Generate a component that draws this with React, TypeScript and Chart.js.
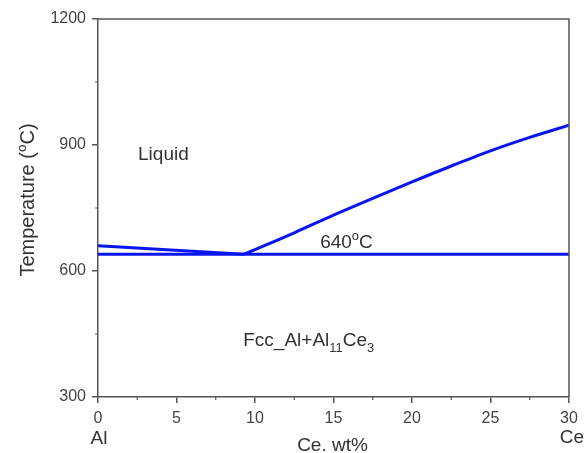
import React, { useEffect, useRef } from 'react';
import { Chart, registerables } from 'chart.js';

Chart.register(...registerables);

// ---- data ----
const xMajorTicks = [0, 5, 10, 15, 20, 25, 30];
const xMinorTicks = [2.5, 7.5, 12.5, 17.5, 22.5, 27.5];
const yMajorTicks = [300, 600, 900, 1200];
const yMinorTicks = [450, 750, 1050];

const liquidusAlX = [0, 9.3];
const liquidusAlY = [660, 640];
const liquidusCeX = [9.3, 10, 12.5, 15, 17.5, 20, 22.5, 25, 27.5, 30];
const liquidusCeY = [640, 651, 691, 733, 773, 812, 850, 886, 918, 947];
const eutecticX = [0, 30];
const eutecticY = [640, 640];

const xTitle = 'Ce. wt%';
const xLeftEnd = 'Al';
const xRightEnd = 'Ce';

const FONT = '"Liberation Sans", Arial, Helvetica, sans-serif';
const AXIS = '#555555';
const TEXT = '#333333';
const BLUE = '#0a14f0';

type Part = { t: string; m?: 'sup' | 'sub' };

function richWidth(ctx: CanvasRenderingContext2D, parts: Part[], size: number) {
  let w = 0;
  for (const p of parts) {
    const s = p.m ? size * 0.68 : size;
    ctx.font = `${s}px ${FONT}`;
    w += ctx.measureText(p.t).width;
  }
  return w;
}

function drawRich(
  ctx: CanvasRenderingContext2D,
  parts: Part[],
  x: number,
  y: number,
  size: number,
  align: 'left' | 'center' = 'left'
) {
  let cx = x;
  if (align === 'center') cx = x - richWidth(ctx, parts, size) / 2;
  ctx.textAlign = 'left';
  ctx.textBaseline = 'alphabetic';
  for (const p of parts) {
    const s = p.m ? size * 0.68 : size;
    ctx.font = `${s}px ${FONT}`;
    let dy = 0;
    if (p.m === 'sup') dy = -size * 0.42;
    if (p.m === 'sub') dy = size * 0.28;
    ctx.fillText(p.t, cx, y + dy);
    cx += ctx.measureText(p.t).width;
  }
}

const overlay = {
  id: 'overlay',
  afterDraw(chart: any) {
    const { ctx, chartArea: ca, scales } = chart;
    const xs = scales.x;
    const ys = scales.y;
    ctx.save();
    // frame (top & right)
    ctx.strokeStyle = AXIS;
    ctx.lineWidth = 1.5;
    ctx.beginPath();
    ctx.moveTo(ca.left, ca.top);
    ctx.lineTo(ca.right, ca.top);
    ctx.lineTo(ca.right, ca.bottom);
    ctx.stroke();
    // minor ticks
    ctx.lineWidth = 1.2;
    ctx.beginPath();
    for (const v of xMinorTicks) {
      const px = xs.getPixelForValue(v);
      ctx.moveTo(px, ca.bottom);
      ctx.lineTo(px, ca.bottom + 3);
    }
    for (const v of yMinorTicks) {
      const py = ys.getPixelForValue(v);
      ctx.moveTo(ca.left, py);
      ctx.lineTo(ca.left - 3, py);
    }
    ctx.stroke();

    ctx.fillStyle = TEXT;
    // x end labels
    ctx.font = `19px ${FONT}`;
    ctx.textAlign = 'center';
    ctx.textBaseline = 'alphabetic';
    ctx.fillText(xLeftEnd, xs.getPixelForValue(0) + 1, 444);
    ctx.fillText(xRightEnd, xs.getPixelForValue(30) + 3, 443);
    // x title
    ctx.font = `19px ${FONT}`;
    ctx.fillText(xTitle, (ca.left + ca.right) / 2 - 1, 451);

    // y title
    ctx.save();
    ctx.translate(34, 200);
    ctx.rotate(-Math.PI / 2);
    drawRich(ctx, [{ t: 'Temperature (' }, { t: 'o', m: 'sup' }, { t: 'C)' }], 0, 0, 20, 'center');
    ctx.restore();

    // region annotations
    drawRich(ctx, [{ t: 'Liquid' }], xs.getPixelForValue(2.55), ys.getPixelForValue(864), 19);
    drawRich(ctx, [{ t: '640' }, { t: 'o', m: 'sup' }, { t: 'C' }], xs.getPixelForValue(14.15), ys.getPixelForValue(655), 19);
    drawRich(
      ctx,
      [{ t: 'Fcc_Al+Al' }, { t: '11', m: 'sub' }, { t: 'Ce' }, { t: '3', m: 'sub' }],
      xs.getPixelForValue(9.25),
      ys.getPixelForValue(421),
      19
    );
    ctx.restore();
  },
};

function pts(xs: number[], ys: number[]) {
  return xs.map((x, i) => ({ x, y: ys[i] }));
}

export default function App() {
  const ref = useRef<HTMLCanvasElement | null>(null);
  useEffect(() => {
    if (!ref.current) return;
    const lineDs = (data: any[], extra: any = {}) => ({
      data,
      showLine: true,
      borderColor: BLUE,
      backgroundColor: BLUE,
      borderWidth: 3,
      pointRadius: 0,
      fill: false,
      ...extra,
    });
    const chart = new Chart(ref.current, {
      type: 'scatter',
      data: {
        datasets: [
          lineDs(pts(eutecticX, eutecticY)),
          lineDs(pts(liquidusAlX, liquidusAlY)),
          lineDs(pts(liquidusCeX, liquidusCeY), { cubicInterpolationMode: 'monotone' }),
        ],
      },
      options: {
        animation: false,
        responsive: false,
        maintainAspectRatio: false,
        devicePixelRatio: 1,
        layout: { padding: { left: 0, right: 17, top: 19, bottom: 0 } },
        plugins: { legend: { display: false }, tooltip: { enabled: false }, title: { display: false } },
        scales: {
          x: {
            type: 'linear',
            min: 0,
            max: 30,
            afterFit: (s: any) => {
              s.height = 56;
            },
            afterBuildTicks: (s: any) => {
              s.ticks = xMajorTicks.map((v) => ({ value: v }));
            },
            ticks: {
              color: '#444',
              font: { family: FONT, size: 16 },
              padding: 6,
              maxRotation: 0,
              autoSkip: false,
              callback: (v: any) => String(v),
            },
            grid: { drawOnChartArea: false, drawTicks: true, tickLength: 6, color: AXIS, lineWidth: 1.5 },
            border: { display: true, color: AXIS, width: 1.5 },
          },
          y: {
            type: 'linear',
            min: 300,
            max: 1200,
            afterFit: (s: any) => {
              s.width = 98;
            },
            afterBuildTicks: (s: any) => {
              s.ticks = yMajorTicks.map((v) => ({ value: v }));
            },
            ticks: {
              color: '#444',
              font: { family: FONT, size: 16 },
              padding: 6,
              autoSkip: false,
              callback: (v: any) => String(v),
            },
            grid: { drawOnChartArea: false, drawTicks: true, tickLength: 6, color: AXIS, lineWidth: 1.5 },
            border: { display: true, color: AXIS, width: 1.5 },
          },
        },
      },
      plugins: [overlay],
    });
    return () => chart.destroy();
  }, []);
  return (
    <div style={{ position: 'fixed', left: 0, top: 0, width: 586, height: 453, background: '#fff' }}>
      <canvas ref={ref} width={586} height={453} style={{ width: 586, height: 453, display: 'block' }} />
    </div>
  );
}
